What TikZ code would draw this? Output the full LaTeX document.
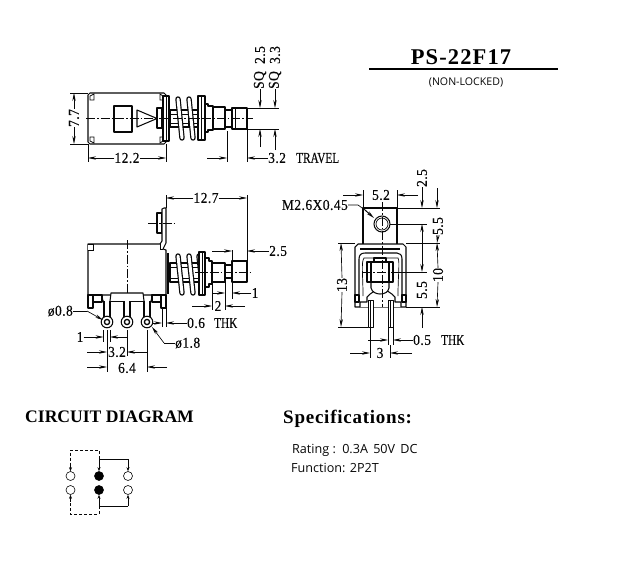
\documentclass[tikz,border=0pt]{standalone}
\usepackage{fontspec}
\usetikzlibrary{arrows.meta}
\setmainfont{Liberation Serif}
\newfontfamily\dimff{Liberation Serif}[LetterSpace=3,FakeStretch=0.9,FakeBold=0.25]
\newfontfamily\wordff{Liberation Serif}[FakeStretch=0.75,FakeBold=0.25]
\newfontfamily\titleff{Liberation Serif}[LetterSpace=5,BoldFont={Liberation Serif Bold}]
\newfontfamily\specff{Liberation Serif}[LetterSpace=4,BoldFont={Liberation Serif Bold}]
\newfontfamily\noteff{Open Sans}
\definecolor{ink}{gray}{0.03}
\tikzset{
  part/.style={draw=ink,line width=1.05pt,fill=white,line join=round},
  thin part/.style={draw=ink,line width=0.7pt},
  dimline/.style={draw=ink,line width=0.65pt},
  dimarrow/.style={draw=ink,line width=0.65pt,-{Stealth[length=8pt,width=3.4pt]}},
  centreline/.style={draw=ink,line width=0.55pt,dash pattern=on 9pt off 2pt on 1.5pt off 2pt},
  dimtext/.style={inner sep=0pt,text=ink,font=\dimff\fontsize{15}{15}\selectfont},
  wordtext/.style={inner sep=0pt,text=ink,font=\wordff\fontsize{15}{15}\selectfont},
  notetext/.style={inner sep=0pt,text=ink,anchor=west,font=\noteff\fontsize{12.6}{12.6}\selectfont},
  terminal/.style={draw=ink,line width=0.6pt,circle,minimum size=9pt,inner sep=0pt},
  switch wire/.style={draw=ink,line width=0.6pt},
  switch dash/.style={draw=ink,line width=0.6pt,densely dashed},
  switch arrow/.style={draw=ink,line width=0.6pt,-{Stealth[length=4pt,width=3pt]}}
}
\newcommand{\coil}[3]{%
  \draw[draw=ink,line width=5.4pt,line cap=round] (#1,#2+2)--(#1+4,#3-2);
  \draw[draw=white,line width=3pt,line cap=round] (#1,#2+2)--(#1+4,#3-2);
}
\begin{document}
\begin{tikzpicture}[x=1pt,y=-1pt]
\useasboundingbox[fill=white] (0,0) rectangle (617,567);

% ---------- title
\node[anchor=base,inner sep=0pt,text=black,font=\titleff\bfseries\fontsize{22.5}{22.5}\selectfont] (title) at (461,65) {PS-22F17};
\coordinate (ruleL) at (369,69); \coordinate (ruleR) at (558,69);
\draw[draw=black,line width=1.7pt] (ruleL)--(ruleR);
\node[inner sep=0pt,text=ink,font=\noteff\fontsize{10.6}{10.6}\selectfont] (nonlocked) at (466,82) {(NON-LOCKED)};

% ---------- top view
\draw[part] (90,93) -- (164,93) -- (166,95) -- (166,142) -- (164,144) -- (90,144) -- (88,142) -- (88,95) -- cycle;
\draw[thin part] (94,94) -- (90,96) -- (90,100) -- (94,100) -- cycle;
\draw[thin part] (94,143) -- (90,141) -- (90,137) -- (94,137) -- cycle;
\draw[thin part] (160,94) -- (163,96) -- (163,100) -- (160,100) -- cycle;
\draw[thin part] (160,143) -- (163,141) -- (163,137) -- (160,137) -- cycle;
\draw[part] (114,106) rectangle (132,132);
\draw[part] (137,110) -- (157,118.5) -- (137,127) -- cycle;
\draw[part] (157,108) rectangle (162,128);
\draw[part] (170,110) rectangle (200,127);
\draw[thin part] (170,114) -- (200,114) (170,123) -- (200,123) (178,110) -- (178,127) (188,110) -- (188,127);
\coil{178}{97}{140} \coil{189}{97}{140}
\draw[part] (163,96) rectangle (169,141);
\draw[thin part] (166,96) -- (166,141);
\draw[part] (198,96) rectangle (205,140);
\draw[thin part] (201.5,96) -- (201.5,140);
\draw[part] (205,104) -- (208,104) -- (208,106) -- (213,106) -- (213,130) -- (208,130) -- (208,132) -- (205,132) -- cycle;
\draw[part] (213,107) rectangle (225,129);
\draw[part] (225,110) rectangle (232,127);
\draw[part] (232,108) rectangle (247,129);
\draw[thin part] (235,108) -- (235,129);
\draw[centreline] (86,118.5) -- (253,118.5);

% top view dimensions
\draw[dimline] (70,93) -- (88,93) (70,144) -- (88,144);
\node[dimtext,rotate=90] (d77) at (74,118) {7.7};
\draw[dimarrow] (d77.east) -- (74,93);
\draw[dimarrow] (d77.west) -- (74,144);
\draw[dimline] (88,144) -- (88,162) (166,144) -- (166,162) (227,131) -- (227,162) (247,129) -- (247,162);
\node[dimtext] (d122) at (127,158) {12.2};
\draw[dimarrow] (d122.west) -- (88,158);
\draw[dimarrow] (d122.east) -- (166,158);
\coordinate (travelL) at (207,158);
\draw[dimarrow] (travelL) -- (227,158);
\node[dimtext,anchor=west] (d32) at (268,158) {3.2};
\draw[dimarrow] (d32.west) -- (247,158);
\node[wordtext,anchor=west] (travel) at (296,158) {TRAVEL};

\draw[dimline] (247,108) -- (279,108) (247,129) -- (279,129);
\node[dimtext,rotate=90] (sqa) at (260,80) {SQ};
\node[dimtext,rotate=90] (sqav) at (260,55) {2.5};
\node[dimtext,rotate=90] (sqb) at (275,80) {SQ};
\node[dimtext,rotate=90] (sqbv) at (275,55) {3.3};
\draw[dimarrow] (sqa.west) -- (260,108);
\draw[dimarrow] (sqb.west) -- (275,108);
\coordinate (sqaE) at (260,147); \coordinate (sqbE) at (275,150);
\draw[dimarrow] (sqaE) -- (260,129);
\draw[dimarrow] (sqbE) -- (275,129);

% ---------- side view
\draw[part] (157,213) rectangle (162,233);
\draw[part] (88,244) -- (160,244) -- (162,241) -- (162,209) -- (164,208) -- (166,208) -- (166,243) -- (163,249) -- (166,250) -- (166,295) -- (88,295) -- cycle;
\draw[thin part,fill=white] (88,244) -- (93,244) -- (93,250) -- (88,250);
\draw[thin part] (160,244) -- (160,249) -- (163,249);
\draw[centreline] (148,223) -- (174,223);
\draw[centreline] (127,240) -- (127,320);
\draw[part] (88,295) -- (93,295) -- (93,308) -- (88,308) -- cycle;
\draw[part] (93,295) -- (93,302) -- (102,302) -- (102,295) -- cycle;
\draw[part] (161,295) -- (166,295) -- (166,308) -- (161,308) -- cycle;
\draw[part] (152,295) -- (152,302) -- (161,302) -- (161,295) -- cycle;
\draw[part] (110,301) -- (111,293) -- (143,293) -- (144,301);
\draw[thin part] (102,295) .. controls (103,301) and (103,302) .. (105,302);
\draw[thin part] (152,295) .. controls (151,301) and (151,302) .. (150,302);
\draw[thin part] (105,301) -- (150,301);
\foreach \px/\pn in {107/a,127/b,147/c}{
  \draw[part] (\px-3,301) -- (\px-3,318) -- (\px+3,318) -- (\px+3,301);
  \draw[part] (\px,322) circle[radius=5.8];
  \draw[draw=ink,line width=1.3pt,fill=white] (\px,322) circle[radius=2.6];
}
\draw[part] (170,263) rectangle (200,282);
\draw[thin part] (170,267) -- (200,267) (170,278) -- (200,278);
\coil{178}{254}{295} \coil{189}{254}{295} \coil{199}{254}{295}
\draw[draw=ink,line width=2.6pt] (168,253) -- (168,294);
\draw[part] (199,252) rectangle (205,295);
\draw[thin part] (202,252) -- (202,295);
\draw[part] (205,258) -- (209,258) -- (209,261) -- (212,261) -- (212,284) -- (209,284) -- (209,287) -- (205,287) -- cycle;
\draw[part] (212,263) rectangle (225,282);
\draw[part] (225,265) rectangle (232,278);
\draw[part] (232,261) rectangle (247,282);
\draw[centreline] (195,272) -- (252,272);

% side view dimensions
\draw[dimline] (166,195) -- (166,208) (247,195) -- (247,261) (232,250) -- (232,261);
\node[dimtext] (d127) at (206,198) {12.7};
\draw[dimarrow] (d127.west) -- (166,198);
\draw[dimarrow] (d127.east) -- (247,198);
\node[dimtext,anchor=west] (d25s) at (269,251) {2.5};
\draw[dimarrow] (d25s.west) -- (247,251);
\coordinate (s25L) at (212,251);
\draw[dimarrow] (s25L) -- (232,251);
\draw[dimline] (232,282) -- (232,299) (225,278) -- (225,310) (212,284) -- (212,310);
\node[dimtext] (d1s) at (255,293) {1};
\draw[dimarrow] (d1s.west) -- (232,293);
\coordinate (s1L) at (212,293);
\draw[dimarrow] (s1L) -- (225,293);
\node[dimtext] (d2s) at (218,306) {2};
\coordinate (s2L) at (192,306); \coordinate (s2R) at (245,306);
\draw[dimarrow] (s2L) -- (212,306);
\draw[dimarrow] (s2R) -- (225,306);
\draw[dimline] (162,308) -- (162,327) (166,308) -- (166,327);
\node[dimtext,anchor=west] (d06) at (187,323) {0.6};
\node[wordtext,anchor=west] (thka) at (214,323) {THK};
\draw[dimarrow] (d06.west) -- (166,323);
\coordinate (s06L) at (152,323);
\draw[dimarrow] (s06L) -- (162,323);
\node[dimtext,anchor=east] (d08) at (73,311) {ø0.8};
\coordinate (l08) at (87,311);
\draw[dimline] (d08.east) -- (l08);
\draw[dimarrow] (l08) -- (103,320);
\node[dimtext,anchor=west] (d18) at (175,343) {ø1.8};
\coordinate (l18) at (164,343);
\draw[dimline] (d18.west) -- (l18);
\draw[dimarrow] (l18) -- (152,327);
\draw[dimline] (103.5,330) -- (103.5,342) (110,330) -- (110,342) (107,330) -- (107,372) (127,330) -- (127,356) (147,330) -- (147,372);
\node[dimtext] (d1b) at (80,337) {1};
\draw[dimarrow] (d1b.east) -- (103.5,337);
\coordinate (b1R) at (127,337);
\draw[dimarrow] (b1R) -- (110,337);
\node[dimtext,fill=white] (d32b) at (117,352) {3.2};
\coordinate (b32L) at (87,352); \coordinate (b32R) at (147,352);
\draw[dimarrow] (b32L) -- (107,352);
\draw[dimarrow] (b32R) -- (127,352);
\node[dimtext,fill=white] (d64) at (127,368) {6.4};
\coordinate (b64L) at (87,367); \coordinate (b64R) at (167,367);
\draw[dimarrow] (b64L) -- (107,367);
\draw[dimarrow] (b64R) -- (147,367);

% ---------- end view
\draw[part] (363,208) rectangle (397,250);
\draw[part] (382,224) circle[radius=8];
\draw[thin part] (382,224) circle[radius=6];
\draw[part] (358,244) -- (403,244) -- (406,247) -- (406,307) -- (355,307) -- (355,247) -- cycle;
\draw[fill=ink,draw=none] (360,248) rectangle (400,250);
\draw[part] (359,296) .. controls (359,270) and (359,262) .. (359,259)
   .. controls (359,255) and (361,253) .. (365,253) -- (397,253)
   .. controls (400,253) and (402,255) .. (402,259) -- (402,296);
\draw[thin part] (363,296) .. controls (363,275) and (361,262) .. (364,258) -- (398,258) .. controls (400,262) and (398,275) .. (398,296);
\draw[part] (355,295) rectangle (359,302);
\draw[part] (402,295) rectangle (406,302);
\draw[part] (360,307) -- (360,302) -- (367,302) -- (367,297) .. controls (372,292) and (375,290) .. (381,290) .. controls (387,290) and (390,292) .. (395,297) -- (395,302) -- (401,302) -- (401,307);
\draw[part] (371,280) -- (371,288) .. controls (372,292) and (376,294) .. (380,294) .. controls (385,294) and (388,292) .. (389,288) -- (389,280);
\draw[part] (374,258) rectangle (386,263);
\draw[part] (367,262) rectangle (393,282);
\draw[part] (371,262) rectangle (389,282);
\draw[part,line width=0.8pt] (368,300) rectangle (373,327);
\draw[part,line width=0.8pt] (388,300) rectangle (393,327);
\draw[thin part] (370.5,300) -- (370.5,327) (390.5,300) -- (390.5,327);
\draw[centreline] (382,202) -- (382,307);
\draw[centreline] (362,272) -- (393,272);

% end view dimensions
\draw[dimline] (363,190) -- (363,208) (397,190) -- (397,208);
\node[dimtext] (d52) at (381,195) {5.2};
\coordinate (e52L) at (343,195); \coordinate (e52R) at (418,195);
\draw[dimarrow] (e52L) -- (363,195);
\draw[dimarrow] (e52R) -- (397,195);
\node[dimtext,anchor=east] (m26) at (348,205) {M2.6X0.45};
\coordinate (lm1) at (358,205);
\draw[dimline] (m26.east) -- (lm1) -- (365,210);
\draw[dimarrow,line width=1pt] (365,210) -- (374,218);
\draw[dimline] (397,208) -- (440,208) (390,224) -- (427,224) (406,243) -- (440,243) (393,272) -- (427,272) (406,307) -- (440,307);
\node[dimtext,rotate=90] (e25) at (422,178) {2.5};
\draw[dimarrow] (e25.west) -- (422,208);
\coordinate (e55mid) at (422,248);
\draw[dimarrow] (e55mid) -- (422,224);
\draw[dimarrow] (e55mid) -- (422,272);
\node[dimtext,rotate=90] (e55b) at (422,290) {5.5};
\coordinate (e55E) at (422,328);
\draw[dimarrow] (e55E) -- (422,307);
\node[dimtext,rotate=90] (e55t) at (438,226) {5.5};
\coordinate (e55T) at (437,188);
\draw[dimarrow] (e55T) -- (437,208);
\draw[dimarrow] (e55t.west) -- (437,243);
\node[dimtext,rotate=90] (e10) at (438,275) {10};
\draw[dimarrow] (e10.east) -- (437,243);
\draw[dimarrow] (e10.west) -- (437,307);
\draw[dimline] (338,243) -- (355,243) (338,327) -- (368,327);
\node[dimtext,rotate=90] (e13) at (342,285) {13};
\draw[dimarrow] (e13.east) -- (341,243);
\draw[dimarrow] (e13.west) -- (341,327);
\draw[dimline] (388,327) -- (388,345) (393,327) -- (393,345) (370,327) -- (370,358) (390,345) -- (390,358);
\node[dimtext,anchor=west] (e05) at (413,340) {0.5};
\node[wordtext,anchor=west] (thkb) at (441,340) {THK};
\draw[dimarrow] (e05.west) -- (393,340);
\coordinate (e05L) at (368,340);
\draw[dimarrow] (e05L) -- (388,340);
\node[dimtext] (e3) at (380,353) {3};
\coordinate (e3L) at (350,353); \coordinate (e3R) at (412,353);
\draw[dimarrow] (e3L) -- (370,353);
\draw[dimarrow] (e3R) -- (390,353);

% ---------- lower headings
\node[anchor=base west,inner sep=0pt,text=black,font=\bfseries\fontsize{17.6}{17.6}\selectfont] (circuit) at (25,422) {CIRCUIT DIAGRAM};
\node[anchor=base west,inner sep=0pt,text=black,font=\specff\bfseries\fontsize{19}{19}\selectfont] (spec) at (283,423) {Specifications:};
\node[notetext] (rating) at (292,450) {Rating :\kern2pt{} 0.3A\kern2pt{} 50V\kern2pt{} DC};
\node[notetext] (function) at (291,468) {Function: 2P2T};

% ---------- circuit
\node[terminal] (l1) at (70.5,476) {};
\node[terminal] (l2) at (70.5,490) {};
\node[terminal,fill=black] (m1) at (99,476) {};
\node[terminal,fill=black] (m2) at (99,490) {};
\node[terminal] (r1) at (128,476) {};
\node[terminal] (r2) at (128,490) {};
\coordinate (tl) at (70.5,450); \coordinate (tm) at (99,450);
\coordinate (bl) at (70.5,514); \coordinate (bm) at (99,514);
\coordinate (ts) at (99,459); \coordinate (tr) at (128,459);
\coordinate (bs) at (99,506); \coordinate (br) at (128,506);
\draw[switch dash] (ts) -- (tm) -- (tl) -- (70.5,466);
\draw[switch arrow] (70.5,464) -- (l1.north);
\draw[switch dash] (bs) -- (bm) -- (bl) -- (70.5,500);
\draw[switch arrow] (70.5,502) -- (l2.south);
\draw[switch arrow] (ts) -- (m1.north);
\draw[switch wire] (ts) -- (tr);
\draw[switch arrow] (tr) -- (r1.north);
\draw[switch arrow] (bs) -- (m2.south);
\draw[switch wire] (bs) -- (br);
\draw[switch arrow] (br) -- (r2.south);
\end{tikzpicture}
\end{document}
